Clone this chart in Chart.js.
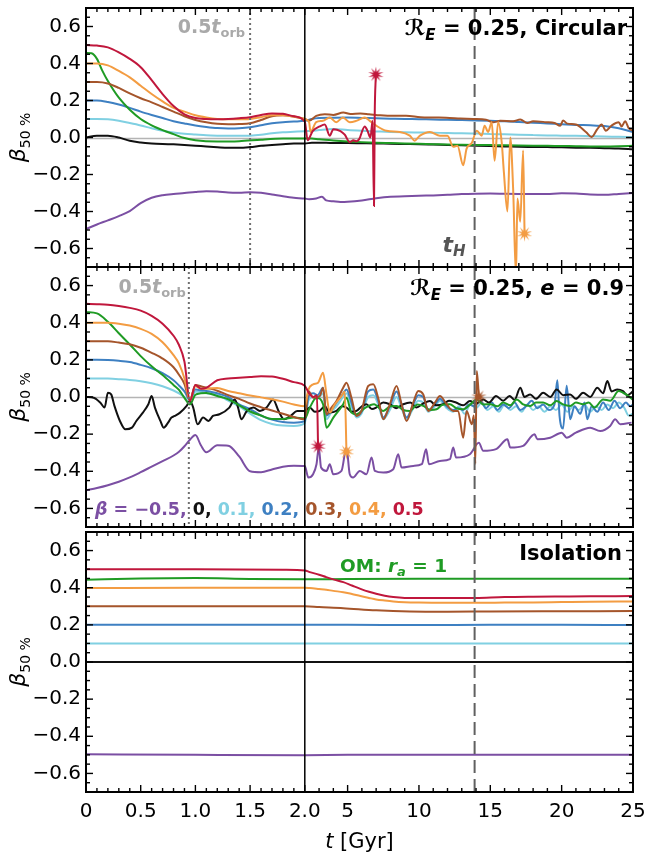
<!DOCTYPE html>
<html><head><meta charset="utf-8">
<script src="https://cdn.jsdelivr.net/npm/chart.js@4"></script>
<style>
html,body{margin:0;padding:0;background:#fff;}
#wrap{position:relative;width:646px;height:858px;overflow:hidden;}
canvas{position:absolute;left:0;top:0;}
</style></head><body>
<div id="wrap">
<canvas id="c1" width="646" height="858"></canvas>
<canvas id="c2" width="646" height="858"></canvas>
<canvas id="c3" width="646" height="858"></canvas>
</div>
<script>
// ---------------- axis / tick data ----------------
const xTickValues = [0, 0.5, 1, 1.5, 2, 5, 10, 15, 20, 25];
const xTickLabels = ['0', '0.5', '1.0', '1.5', '2.0', '5', '10', '15', '20', '25'];
const xMinorLeft = [0.1,0.2,0.3,0.4,0.6,0.7,0.8,0.9,1.1,1.2,1.3,1.4,1.6,1.7,1.8,1.9];
const xMinorRight = [3,4,6,7,8,9,11,12,13,14,16,17,18,19,21,22,23,24];
const yTickValues = [-0.6, -0.4, -0.2, 0, 0.2, 0.4, 0.6];
const yTickLabels = ['\u22120.6', '\u22120.4', '\u22120.2', '0.0', '0.2', '0.4', '0.6'];
const yMinor = [-0.7,-0.65,-0.55,-0.5,-0.45,-0.35,-0.3,-0.25,-0.15,-0.1,-0.05,0.05,0.1,0.15,0.25,0.3,0.35,0.45,0.5,0.55,0.65,0.7];
const betaLegend = ['\u22120.5', '0', '0.1', '0.2', '0.3', '0.4', '0.5'];
const tOrbTop = 1.5, tOrbMid = 0.94, tHubble = 13.9, tSplit = 2;

// ---------------- shared time grids ----------------
const tL = [0,0.1,0.2,0.3,0.4,0.5,0.6,0.7,0.8,0.9,1.0,1.1,1.2,1.3,1.4,1.5,1.6,1.7,1.8,1.9,2.0];
const tR = [2.5,3,4,5,6,7,8,9,10,11,12,13,14,15,16,17,18,19,20,21,22,23,24,25];
const tLM = [0,0.1,0.2,0.3,0.4,0.5,0.6,0.7,0.8,0.85,0.9,0.95,1.0,1.05,1.1,1.2,1.3,1.4,1.5,1.6,1.7,1.8,1.9,2.0];

// ---------------- TOP panel: R_E = 0.25, circular ----------------
const topM05L = [-0.495,-0.47,-0.448,-0.425,-0.398,-0.355,-0.326,-0.312,-0.305,-0.3,-0.294,-0.29,-0.292,-0.297,-0.298,-0.296,-0.299,-0.308,-0.318,-0.326,-0.33];
const topM05RT = [2.3,2.8,3.2,3.5,4,4.5,5,6,7,8,9,10,11,12,13,14,15,16,17,18,19,20,21,22,23,24,25];
const topM05RB = [-0.334,-0.33,-0.32,-0.34,-0.345,-0.348,-0.347,-0.34,-0.328,-0.32,-0.318,-0.315,-0.313,-0.31,-0.306,-0.304,-0.303,-0.304,-0.305,-0.306,-0.305,-0.302,-0.303,-0.308,-0.31,-0.305,-0.3];
const topB0L = [0,0.01,0.01,0.0,-0.018,-0.027,-0.032,-0.035,-0.037,-0.04,-0.044,-0.049,-0.053,-0.056,-0.056,-0.052,-0.045,-0.04,-0.036,-0.033,-0.033];
const topB0R = [-0.028,-0.028,-0.03,-0.03,-0.031,-0.032,-0.034,-0.035,-0.036,-0.038,-0.04,-0.042,-0.044,-0.046,-0.048,-0.05,-0.051,-0.052,-0.053,-0.055,-0.056,-0.058,-0.06,-0.064];
const topB01L = [0.1,0.1,0.098,0.09,0.078,0.065,0.05,0.037,0.027,0.02,0.016,0.012,0.01,0.009,0.009,0.01,0.015,0.023,0.028,0.031,0.034];
const topB01R = [0.036,0.04,0.046,0.04,0.036,0.033,0.03,0.028,0.027,0.026,0.024,0.023,0.021,0.019,0.017,0.015,0.013,0.011,0.01,0.009,0.007,0.005,0.004,0.002];
const topB02L = [0.2,0.2,0.192,0.178,0.16,0.14,0.122,0.105,0.088,0.076,0.065,0.057,0.051,0.049,0.05,0.055,0.066,0.077,0.083,0.086,0.09];
const topB02R = [0.1,0.105,0.107,0.108,0.106,0.104,0.102,0.1,0.099,0.097,0.096,0.094,0.092,0.09,0.088,0.084,0.08,0.076,0.072,0.068,0.066,0.062,0.05,0.03];
const topB03L = [0.3,0.3,0.292,0.268,0.238,0.212,0.19,0.165,0.14,0.115,0.095,0.082,0.074,0.072,0.073,0.077,0.095,0.115,0.12,0.113,0.1];
const topB03RT = [2.3,2.8,3.4,4.0,4.7,5.2,5.9,6.5,7.3,8.2,9.1,10.1,11.0,11.9,12.9,13.8,14.7,15.2,15.7,16.6,17.1,17.6,18.0,18.9,19.5,19.9,20.1,20.4,21.0,21.7,22.1,22.5,22.8,23.1,23.5,24.0,24.2,24.45,24.7,25.0];
const topB03RB = [0.09,0.117,0.126,0.122,0.135,0.127,0.13,0.126,0.12,0.117,0.118,0.11,0.108,0.107,0.103,0.1,0.096,0.082,0.09,0.088,0.097,0.078,0.088,0.083,0.078,0.064,0.092,0.075,0.07,0.03,0.003,0.045,0.07,0.037,0.065,0.083,0.06,0.088,0.05,0.037];
const topB04L = [0.4,0.4,0.39,0.36,0.325,0.28,0.235,0.195,0.16,0.14,0.12,0.108,0.1,0.098,0.098,0.1,0.11,0.12,0.12,0.113,0.1];
const topB04RT = [2.3,2.4,2.8,3.27,3.75,4.2,4.67,5.15,5.6,6.2,6.55,7.0,7.73,8.66,9.36,9.7,10.07,10.77,11.47,12.0,12.4,12.7,13.1,13.34,13.7,14.05,14.4,14.6,14.85,15.1,15.3,15.55,15.8,15.95,16.2,16.4,16.6,16.8,16.9,17.1,17.3,17.4];
const topB04RB = [0.083,0.03,0.083,0.09,0.108,0.083,0.108,0.083,0.09,0.108,0.09,0.064,0.036,0.03,0.01,-0.017,0.01,0.03,0.01,0.01,-0.05,-0.045,-0.15,-0.06,-0.03,0.037,0.01,0.064,0.03,0.083,-0.125,0.083,-0.026,-0.186,-0.4,0.0,-0.277,-0.75,-0.33,-0.455,-0.07,-0.52];
const topB05L = [0.5,0.497,0.487,0.46,0.425,0.38,0.31,0.235,0.17,0.125,0.105,0.1,0.099,0.1,0.104,0.11,0.122,0.13,0.128,0.115,0.085];
const topB05RT = [2.2,2.55,3.05,3.4,3.75,4.0,4.5,4.8,5.15,5.4,5.6,5.8,6.2,6.4,6.6,6.75,6.85,6.9,6.98];
const topB05RB = [-0.015,0.035,0.06,0.07,0.01,0.045,0.035,0.015,-0.025,-0.015,-0.02,-0.01,0.06,0.035,0.0,0.09,-0.37,0.12,0.34];
const topOmLT = [0,0.05,0.1,0.15,0.2,0.3,0.4,0.5,0.6,0.7,0.8,0.9,1.0,1.2,1.4,1.6,1.8,2.0];
const topOmLB = [0.457,0.455,0.425,0.36,0.305,0.215,0.15,0.1,0.066,0.04,0.018,-0.003,-0.015,-0.022,-0.02,-0.012,-0.006,-0.005];
const topOmR = [-0.006,-0.01,-0.016,-0.021,-0.025,-0.028,-0.03,-0.032,-0.034,-0.036,-0.038,-0.039,-0.04,-0.041,-0.042,-0.043,-0.044,-0.045,-0.046,-0.047,-0.048,-0.048,-0.047,-0.045];

// ---------------- MIDDLE panel: R_E = 0.25, e = 0.9 ----------------
const midM05L = [-0.502,-0.49,-0.475,-0.456,-0.433,-0.405,-0.375,-0.345,-0.315,-0.295,-0.265,-0.23,-0.205,-0.26,-0.298,-0.26,-0.262,-0.32,-0.4,-0.405,-0.39,-0.375,-0.37,-0.372];
const midM05RT = [2.25,2.58,2.82,2.98,3.14,3.52,3.75,3.99,4.57,4.92,5.15,5.38,5.85,6.32,6.68,6.91,7.5,8.2,8.55,8.78,9.6,10.2,10.5,10.7,11.47,12.17,12.4,12.6,13.57,14.2,14.5,15.4,16.2,16.4,17.3,18.1,18.3,19.2,20.0,20.35,21.0,22.0,22.7,23.4,23.75,24.1,24.9];
const midM05RB = [-0.434,-0.416,-0.362,-0.272,-0.38,-0.398,-0.362,-0.416,-0.398,-0.272,-0.416,-0.434,-0.398,-0.416,-0.326,-0.398,-0.407,-0.389,-0.308,-0.38,-0.371,-0.362,-0.281,-0.362,-0.344,-0.335,-0.272,-0.326,-0.308,-0.246,-0.29,-0.281,-0.228,-0.272,-0.263,-0.2,-0.228,-0.219,-0.192,-0.219,-0.192,-0.165,-0.183,-0.156,-0.12,-0.147,-0.138];
const midB0LT = [0,0.07,0.13,0.17,0.2,0.23,0.26,0.31,0.36,0.42,0.46,0.52,0.57,0.6,0.63,0.68,0.71,0.75,0.78,0.81,0.86,0.92,0.95,0.98,1.02,1.07,1.12,1.16,1.22,1.31,1.36,1.39,1.42,1.47,1.53,1.59,1.65,1.71,1.76,1.81,1.87,1.93,2.0];
const midB0LB = [0,-0.004,-0.03,-0.057,0.023,0.014,-0.048,-0.129,-0.174,-0.165,-0.129,-0.084,-0.039,0.005,-0.057,-0.129,-0.165,-0.138,-0.111,-0.102,-0.084,-0.048,-0.022,-0.057,-0.147,-0.111,-0.129,-0.102,-0.093,-0.057,-0.013,-0.057,-0.12,-0.075,-0.057,-0.075,-0.057,-0.013,-0.075,-0.12,-0.102,-0.075,-0.075];
const midB0RT = [2.35,2.7,3.05,3.4,3.75,4.22,4.6,4.92,5.3,5.62,6.0,6.32,6.7,7.0,7.5,7.96,8.4,8.9,9.4,9.83,10.3,10.77,11.2,11.7,12.1,12.6,13.1,13.57,14.0,14.5,14.9,15.4,15.9,16.35,16.7,17.1,17.4,17.8,18.2,18.7,19.2,19.65,20.1,20.6,21.0,21.5,22.0,22.5,22.9,23.2,23.5,23.9,24.3,24.6,25.0];
const midB0RB = [-0.057,-0.08,-0.075,-0.05,-0.084,-0.075,-0.05,-0.057,-0.08,-0.075,-0.05,-0.039,-0.065,-0.057,-0.03,-0.039,-0.06,-0.039,-0.03,-0.057,-0.035,-0.022,-0.045,-0.039,-0.02,-0.03,-0.045,-0.022,-0.035,-0.013,-0.03,0.005,-0.02,0.005,-0.015,0.05,0.0,0.014,-0.01,0.023,0.0,0.041,0.01,0.014,-0.01,0.023,0.0,0.05,0.02,0.086,0.03,0.041,0.032,0.01,0.03];
const midB01L = [0.1,0.1,0.099,0.096,0.092,0.085,0.074,0.058,0.035,0.02,0.0,-0.03,0.028,0.028,0.02,0.012,-0.02,-0.05,-0.09,-0.125,-0.145,-0.154,-0.156,-0.14];
const midB01RT = [2.25,2.6,2.9,3.28,3.52,3.87,4.22,4.69,4.92,5.27,5.62,5.97,6.44,6.8,7.14,7.5,7.96,8.43,8.78,9.13,9.6,9.95,10.3,10.65,11.12,11.47,11.94,12.4,12.8,13.2,13.6,14.0,14.4,14.8,15.2,15.6,16.0,16.4,16.8,17.2,17.6,18.0,18.4,18.8,19.2,19.6,20.0,20.4,20.8,21.2,21.6,22.0,22.4,22.8,23.2,23.6,24.0,24.4,24.7,25];
const midB01RB = [-0.02,0.0,-0.01,0.02,-0.12,-0.08,-0.05,0.0,0.02,-0.05,-0.11,-0.09,0.0,0.01,-0.04,-0.12,-0.07,0.0,-0.06,-0.12,-0.06,-0.02,-0.03,-0.08,-0.05,-0.02,-0.06,-0.08,-0.05,-0.09,-0.04,-0.06,-0.03,-0.07,-0.05,-0.08,-0.04,-0.07,-0.05,-0.08,-0.04,-0.07,-0.05,-0.08,-0.05,-0.07,-0.04,-0.08,-0.05,-0.07,-0.04,-0.08,-0.05,-0.07,-0.04,-0.06,-0.03,-0.06,-0.1,-0.09];
const midB02L = [0.2,0.2,0.199,0.195,0.188,0.173,0.155,0.128,0.09,0.062,0.03,-0.015,0.04,0.036,0.032,0.02,0.0,-0.04,-0.065,-0.1,-0.122,-0.135,-0.138,-0.13];
const midB02RT = [2.25,2.6,2.9,3.28,3.52,3.87,4.22,4.69,4.92,5.27,5.62,5.97,6.44,6.8,7.14,7.5,7.96,8.43,8.78,9.13,9.6,9.95,10.3,10.65,11.12,11.47,11.94,12.4,12.75,13.1,13.5,13.9,14.3,14.7,15.1,15.5,15.9,16.3,16.7,17.1,17.5,17.9,18.3,18.7,19.1,19.5,19.7,19.85,20.1,20.35,20.6,20.9,21.3,21.6,21.8,22.1,22.5,22.9,23.3,23.7,24.1,24.5,24.8,25];
const midB02RB = [0.0,0.02,0.01,0.05,-0.1,-0.07,-0.03,0.02,0.04,-0.03,-0.1,-0.08,0.03,0.04,-0.02,-0.11,-0.05,0.03,-0.04,-0.11,-0.04,0.01,0.0,-0.07,-0.04,-0.01,-0.05,-0.07,-0.06,-0.07,-0.04,-0.05,-0.02,-0.06,-0.03,-0.07,-0.04,-0.06,-0.03,-0.07,-0.05,-0.02,-0.06,-0.04,-0.07,-0.04,0.09,-0.1,-0.17,0.06,-0.12,-0.05,-0.09,-0.03,-0.12,-0.05,-0.08,-0.03,-0.07,-0.02,-0.06,-0.03,-0.05,-0.04];
const midB03L = [0.3,0.3,0.3,0.293,0.284,0.265,0.238,0.207,0.16,0.12,0.07,-0.02,0.065,0.058,0.05,0.034,0.01,-0.01,-0.035,-0.055,-0.073,-0.09,-0.108,-0.12];
const midB03RT = [2.25,2.6,3.05,3.28,3.52,3.87,4.22,4.69,4.92,5.27,5.62,5.97,6.44,6.8,7.14,7.5,7.96,8.43,8.78,9.13,9.6,9.95,10.3,10.65,11.12,11.47,11.94,12.4,12.75,13.1,13.34,13.7,13.85,13.95,14.05,14.2];
const midB03RB = [0.032,-0.004,0.005,0.05,-0.093,-0.057,-0.022,0.05,0.077,-0.004,-0.102,-0.075,0.059,0.068,-0.004,-0.12,-0.039,0.059,-0.039,-0.129,-0.03,0.032,0.014,-0.075,-0.03,0.005,-0.039,-0.075,-0.075,-0.219,-0.075,-0.147,-0.1,-0.36,0.14,0.0];
const midB04L = [0.4,0.4,0.4,0.395,0.385,0.367,0.34,0.295,0.225,0.18,0.1,-0.015,0.058,0.045,0.045,0.048,0.032,0.02,0.008,-0.002,-0.012,-0.025,-0.04,-0.05];
const midB04RT = [2.25,2.58,2.93,3.28,3.52,3.75,4.1,4.57,4.8,4.92];
const midB04RB = [0.04,0.068,0.077,0.13,0.014,-0.084,-0.04,0.005,0.03,-0.295];
const midB05L = [0.502,0.5,0.497,0.49,0.48,0.465,0.437,0.395,0.33,0.28,0.19,-0.02,0.065,0.045,0.05,0.09,0.1,0.104,0.108,0.112,0.11,0.098,0.08,0.06];
const midB05RT = [2.3,2.6,2.85,2.93];
const midB05RB = [0.02,0.0,0.01,-0.265];
const midOmL = [0.457,0.45,0.405,0.343,0.283,0.22,0.165,0.118,0.065,0.038,-0.005,-0.04,0.012,0.02,0.022,0.005,-0.012,-0.045,-0.078,-0.1,-0.118,-0.118,-0.11,-0.115];
const midOmRT = [2.35,2.82,3.28,3.52,4.0,4.69,4.92,5.27,5.62,6.2,6.85,7.5,8.0,8.43,8.9,9.36,9.9,10.3,10.8,11.23,11.7,12.17,12.6,13.1,13.6,14.04,14.5,15.0,15.5,15.9,16.4,16.85,17.3,17.8,18.2,18.7,19.2,19.65,20.1,20.6,21.0,21.5,21.9,22.3,22.9,23.4,24.0,24.3,24.6,25];
const midOmRB = [-0.057,-0.004,-0.039,-0.165,-0.111,-0.039,-0.004,-0.084,-0.093,-0.06,-0.039,-0.075,-0.05,-0.048,-0.07,-0.075,-0.04,-0.048,-0.07,-0.066,-0.04,-0.039,-0.06,-0.066,-0.04,-0.013,-0.04,-0.039,-0.05,-0.03,-0.045,-0.013,-0.04,-0.048,-0.03,-0.03,-0.045,-0.022,-0.04,-0.048,-0.03,-0.039,-0.03,-0.057,-0.013,-0.02,0.032,0.023,0.01,-0.015];

// ---------------- BOTTOM panel: isolation ----------------
const isoB05T = [0,1,1.8,2.0,2.35,3.0,3.5,4.0,4.7,5.3,5.9,6.5,7.0,7.6,8.2,9.0,10,12,14,16,18,20,22,25];
const isoB05B = [0.5,0.5,0.497,0.493,0.484,0.47,0.457,0.445,0.43,0.412,0.394,0.378,0.367,0.357,0.35,0.345,0.344,0.344,0.345,0.35,0.352,0.353,0.354,0.355];
const isoOmT = [0,0.5,1.0,1.5,2.0,5,10,15,20,25];
const isoOmB = [0.443,0.45,0.452,0.447,0.445,0.447,0.448,0.448,0.448,0.448];
const isoB04T = [0,1,2,2.35,3.0,3.5,4.0,4.7,5.3,5.9,6.5,7.0,7.6,8.2,9.0,10,12,14,16,18,20,22,25];
const isoB04B = [0.398,0.4,0.4,0.398,0.393,0.389,0.383,0.376,0.366,0.355,0.345,0.337,0.331,0.326,0.322,0.32,0.319,0.319,0.32,0.321,0.323,0.325,0.326];
const isoB03T = [0,1,2,3,4.7,7.0,9.36,12,15,20,25];
const isoB03B = [0.3,0.3,0.3,0.296,0.29,0.278,0.272,0.271,0.272,0.273,0.274];
const isoFlatT = [0,2,5,10,15,20,25];
const isoB02B = [0.2,0.2,0.2,0.199,0.2,0.2,0.199];
const isoB01B = [0.1,0.099,0.099,0.099,0.099,0.099,0.099];
const isoB0B = [0,0,0,0,0,0,0];
const isoM05T = [0,1,2,5,10,15,20,25];
const isoM05B = [-0.497,-0.5,-0.502,-0.5,-0.5,-0.5,-0.5,-0.5];

// ---------------- styling ----------------
const FF = "'DejaVu Sans', 'Liberation Sans', sans-serif";
const COL = { m05:'#7b4fa3', b0:'#111111', b01:'#80d0e2', b02:'#3e80c2', b03:'#a5552b', b04:'#f39c42', b05:'#c0173c', om:'#1f9b24' };
const GRAYTXT = '#a9a9a9';
const fnt = (st, s) => `${st} ${s}px ${FF}`;
Chart.defaults.font.family = FF;

// split time axis: 0-2 Gyr on the left 40 %, 2-25 Gyr on the right
class SplitScale extends Chart.LinearScale {
  getPixelForValue(v) {
    if (v === null || v === undefined || isNaN(v)) return NaN;
    const wl = this.width * 0.4;
    if (v <= tSplit) return this.left + v / tSplit * wl;
    return this.left + wl + (v - tSplit) / (25 - tSplit) * (this.width - wl);
  }
  getValueForPixel(p) {
    const wl = this.width * 0.4, d = p - this.left;
    if (d <= wl) return d / wl * tSplit;
    return tSplit + (d - wl) / (this.width - wl) * (25 - tSplit);
  }
  buildTicks() { return xTickValues.map(v => ({ value: v })); }
}
SplitScale.id = 'split';
SplitScale.defaults = {};
Chart.register(SplitScale);

function starImg(color) {
  const c = document.createElement('canvas'); c.width = c.height = 17;
  const g = c.getContext('2d'); g.fillStyle = color; g.beginPath();
  const n = 10, R = 8, r = 2.8;
  for (let i = 0; i < 2 * n; i++) {
    const a = -Math.PI / 2 + i * Math.PI / n, rr = i % 2 ? r : R;
    g.lineTo(8.5 + rr * Math.cos(a), 8.5 + rr * Math.sin(a));
  }
  g.closePath(); g.fill(); return c;
}
function pts(t, b) {
  if (t.length !== b.length) throw new Error('length mismatch ' + t.length + ' vs ' + b.length);
  return t.map((x, i) => ({ x, y: b[i] }));
}
function ds(key, t, b, star) {
  const color = COL[key], n = t.length, img = star ? starImg(color) : null;
  return {
    data: pts(t, b), borderColor: color, backgroundColor: color, borderWidth: 2,
    cubicInterpolationMode: 'monotone',
    pointRadius: c => (star && c.dataIndex === n - 1) ? 7 : 0,
    pointStyle: c => (star && c.dataIndex === n - 1) ? img : 'circle',
    pointBorderWidth: 0, pointHoverRadius: 0
  };
}
const cat = (a, b) => a.concat(b);

const topSets = [
  ds('b05', cat(tL, topB05RT), cat(topB05L, topB05RB), true),
  ds('b04', cat(tL, topB04RT), cat(topB04L, topB04RB), true),
  ds('b03', cat(tL, topB03RT), cat(topB03L, topB03RB), false),
  ds('om', cat(topOmLT, tR), cat(topOmLB, topOmR), false),
  ds('b0', cat(tL, tR), cat(topB0L, topB0R), false),
  ds('b02', cat(tL, tR), cat(topB02L, topB02R), false),
  ds('b01', cat(tL, tR), cat(topB01L, topB01R), false),
  ds('m05', cat(tL, topM05RT), cat(topM05L, topM05RB), false)
];
const midSets = [
  ds('b05', cat(tLM, midB05RT), cat(midB05L, midB05RB), true),
  ds('b04', cat(tLM, midB04RT), cat(midB04L, midB04RB), true),
  ds('b03', cat(tLM, midB03RT), cat(midB03L, midB03RB), true),
  ds('om', cat(tLM, midOmRT), cat(midOmL, midOmRB), false),
  ds('b0', cat(midB0LT, midB0RT), cat(midB0LB, midB0RB), false),
  ds('b02', cat(tLM, midB02RT), cat(midB02L, midB02RB), false),
  ds('b01', cat(tLM, midB01RT), cat(midB01L, midB01RB), false),
  ds('m05', cat(tLM, midM05RT), cat(midM05L, midM05RB), false)
];
const isoSets = [
  ds('b05', isoB05T, isoB05B, false),
  ds('om', isoOmT, isoOmB, false),
  ds('b04', isoB04T, isoB04B, false),
  ds('b03', isoB03T, isoB03B, false),
  ds('b02', isoFlatT, isoB02B, false),
  ds('b01', isoFlatT, isoB01B, false),
  ds('b0', isoFlatT, isoB0B, false),
  ds('m05', isoM05T, isoM05B, false)
];

// ---------------- drawing helpers ----------------
function rich(ctx, x, y, parts, align) {
  let w = 0;
  for (const p of parts) { ctx.font = p.f; p.w = ctx.measureText(p.t).width; w += p.w; }
  let cx = align === 'right' ? x - w : align === 'center' ? x - w / 2 : x;
  ctx.textAlign = 'left'; ctx.textBaseline = 'alphabetic';
  for (const p of parts) { ctx.font = p.f; ctx.fillStyle = p.c || '#000'; ctx.fillText(p.t, cx, y + (p.dy || 0)); cx += p.w; }
}
function seg(ctx, x1, y1, x2, y2) { ctx.beginPath(); ctx.moveTo(x1, y1); ctx.lineTo(x2, y2); ctx.stroke(); }
function vline(ctx, px, a, color, w, dash) {
  ctx.save(); ctx.strokeStyle = color; ctx.lineWidth = w; ctx.setLineDash(dash); seg(ctx, px, a.top, px, a.bottom); ctx.restore();
}

function decor(P) {
  return {
    id: 'decor' + P.key,
    beforeDatasetsDraw(chart) {
      const { ctx, chartArea: a, scales: { y } } = chart;
      if (P.zero) {
        ctx.save(); ctx.strokeStyle = '#b4b4b4'; ctx.lineWidth = 1.5;
        const y0 = Math.round(y.getPixelForValue(0)) + 0.5; seg(ctx, a.left, y0, a.right, y0); ctx.restore();
      }
    },
    afterDatasetsDraw(chart) {
      const { ctx, chartArea: a, scales: { x, y } } = chart;
      if (P.orb != null) vline(ctx, x.getPixelForValue(P.orb), a, '#707070', 2, [2, 3]);
      vline(ctx, x.getPixelForValue(tHubble), a, '#606060', 2, [13, 6]);
      vline(ctx, x.getPixelForValue(tSplit), a, '#000', 1.5, []);
      ctx.save(); ctx.strokeStyle = '#000'; ctx.lineWidth = 1.4;
      for (const v of xTickValues) { const p = x.getPixelForValue(v); seg(ctx, p, a.bottom, p, a.bottom - 7); seg(ctx, p, a.top, p, a.top + 7); }
      for (const v of xMinorLeft.concat(xMinorRight)) { const p = x.getPixelForValue(v); seg(ctx, p, a.bottom, p, a.bottom - 4); seg(ctx, p, a.top, p, a.top + 4); }
      for (const v of yTickValues) { const p = y.getPixelForValue(v); seg(ctx, a.left, p, a.left + 7, p); seg(ctx, a.right, p, a.right - 7, p); }
      for (const v of yMinor) { const p = y.getPixelForValue(v); seg(ctx, a.left, p, a.left + 4, p); seg(ctx, a.right, p, a.right - 4, p); }
      ctx.lineWidth = 2; ctx.strokeRect(a.left, a.top, a.right - a.left, a.bottom - a.top);
      ctx.restore();
    },
    afterDraw(chart) {
      const { ctx, chartArea: a, scales: { x } } = chart;
      ctx.save();
      ctx.translate(25, (a.top + a.bottom) / 2); ctx.rotate(-Math.PI / 2);
      rich(ctx, 0, 0, [{ t: '\u03b2', f: fnt('italic', 22) }, { t: '50 %', f: fnt('normal', 14), dy: 5 }], 'center');
      ctx.restore();
      ctx.save();
      P.texts(ctx, chart, a, x);
      ctx.restore();
    }
  };
}

const panels = [
  { key: 'top', id: 'c1', top: 8, bottom: 858 - 267, showX: false, zero: true, orb: tOrbTop, sets: topSets,
    texts(ctx, chart, a, x) {
      rich(ctx, x.getPixelForValue(tOrbTop) - 5, 33, [{ t: '0.5', f: fnt('bold', 19), c: GRAYTXT }, { t: 't', f: fnt('italic bold', 19), c: GRAYTXT }, { t: 'orb', f: fnt('bold', 13), c: GRAYTXT, dy: 4 }], 'right');
      rich(ctx, 627, 35, [{ t: '\u211B', f: fnt('bold', 22) }, { t: 'E', f: fnt('italic bold', 15), dy: 5 }, { t: ' = 0.25, Circular', f: fnt('bold', 21) }], 'right');
      rich(ctx, x.getPixelForValue(tHubble) - 32, 252, [{ t: 't', f: fnt('italic bold', 22), c: '#555' }, { t: 'H', f: fnt('italic bold', 15), c: '#555', dy: 4 }], 'left');
    } },
  { key: 'mid', id: 'c2', top: 267, bottom: 858 - 527, showX: false, zero: true, orb: tOrbMid, sets: midSets,
    texts(ctx, chart, a, x) {
      rich(ctx, x.getPixelForValue(tOrbMid) - 3, 293, [{ t: '0.5', f: fnt('bold', 19), c: GRAYTXT }, { t: 't', f: fnt('italic bold', 19), c: GRAYTXT }, { t: 'orb', f: fnt('bold', 13), c: GRAYTXT, dy: 4 }], 'right');
      rich(ctx, 624, 295, [{ t: '\u211B', f: fnt('bold', 22) }, { t: 'E', f: fnt('italic bold', 15), dy: 5 }, { t: ' = 0.25, ', f: fnt('bold', 21) }, { t: 'e', f: fnt('italic bold', 21) }, { t: ' = 0.9', f: fnt('bold', 21) }], 'right');
      const L = 17.5, keys = ['m05', 'b0', 'b01', 'b02', 'b03', 'b04', 'b05'];
      const parts = [{ t: '\u03b2', f: fnt('italic bold', L), c: COL.m05 }, { t: ' = ', f: fnt('bold', L), c: COL.m05 }];
      betaLegend.forEach((s, i) => parts.push({ t: s + (i < betaLegend.length - 1 ? ', ' : ''), f: fnt('bold', L), c: COL[keys[i]] }));
      rich(ctx, 95, 515, parts, 'left');
    } },
  { key: 'iso', id: 'c3', top: 532, bottom: 0, showX: true, zero: false, orb: null, sets: isoSets,
    texts(ctx, chart, a, x) {
      rich(ctx, 622, 560, [{ t: 'Isolation', f: fnt('bold', 21) }], 'right');
      rich(ctx, 340, 572, [{ t: 'OM: ', f: fnt('bold', 18.5), c: COL.om }, { t: 'r', f: fnt('italic bold', 18.5), c: COL.om }, { t: 'a', f: fnt('italic bold', 13), c: COL.om, dy: 4 }, { t: ' = 1', f: fnt('bold', 18.5), c: COL.om }], 'left');
      rich(ctx, (a.left + a.right) / 2, 848, [{ t: 't', f: fnt('italic', 21) }, { t: ' [Gyr]', f: fnt('normal', 21) }], 'center');
    } }
];

for (const P of panels) {
  new Chart(document.getElementById(P.id), {
    type: 'line',
    data: { datasets: P.sets },
    options: {
      responsive: false, animation: false, events: [],
      layout: { padding: { left: 0, right: 13, top: P.top, bottom: P.bottom } },
      plugins: { legend: { display: false }, tooltip: { enabled: false } },
      scales: {
        x: { type: 'split', min: 0, max: 25, display: P.showX,
          grid: { display: false, drawTicks: false }, border: { display: false },
          ticks: { autoSkip: false, maxRotation: 0, padding: 8, color: '#000', font: { family: FF, size: 20 }, callback: (v, i) => xTickLabels[i] },
          afterFit: s => { s.height = P.showX ? 66 : 0; s.paddingLeft = 0; s.paddingRight = 0; } },
        y: { type: 'linear', min: -0.7, max: 0.7,
          grid: { display: false, drawTicks: false }, border: { display: false },
          afterBuildTicks: s => { s.ticks = yTickValues.map(v => ({ value: v })); },
          ticks: { autoSkip: false, padding: 5, color: '#000', font: { family: FF, size: 20 }, callback: (v, i) => yTickLabels[i] },
          afterFit: s => { s.width = 86; s.paddingTop = 0; s.paddingBottom = 0; } }
      }
    },
    plugins: [decor(P)]
  });
}
</script>
</body></html>
